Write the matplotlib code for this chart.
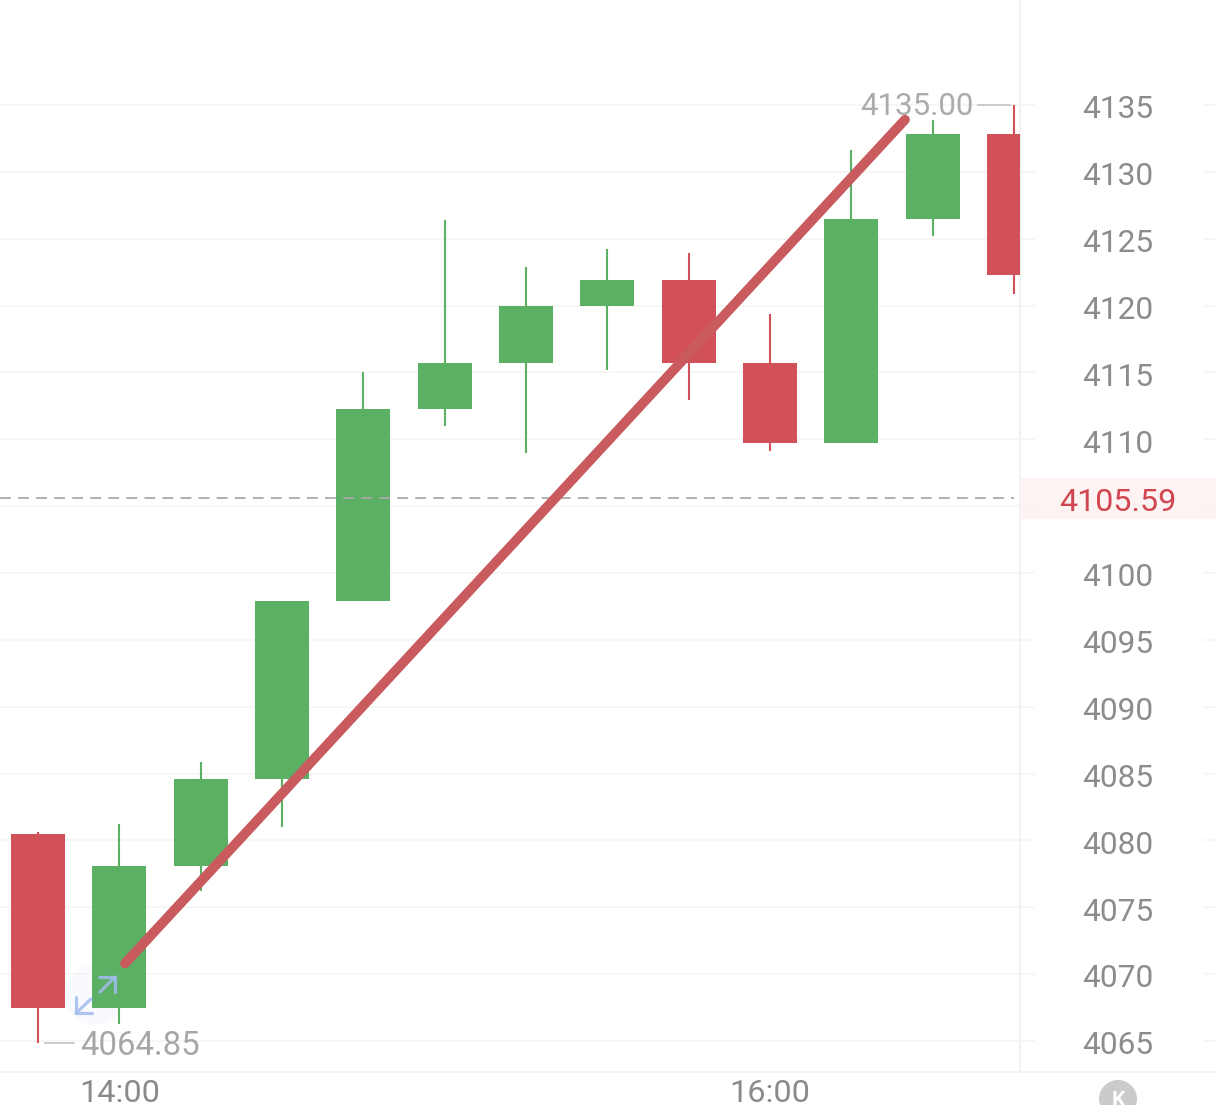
"""Candlestick screenshot with a hand-drawn trend line."""

import matplotlib

matplotlib.use("Agg")
import matplotlib.pyplot as plt
from matplotlib.patches import Circle, Rectangle
from matplotlib.transforms import ScaledTranslation

plt.rcParams["font.family"] = ["Roboto", "DejaVu Sans"]

OPENS = [4080.5, 4067.5, 4078.1, 4084.6, 4097.9, 4112.3, 4115.7, 4120.0,
         4121.9, 4115.7, 4109.7, 4126.5, 4132.8]
CLOSES = [4067.5, 4078.1, 4084.6, 4097.9, 4112.3, 4115.7, 4120.0, 4121.9,
          4115.7, 4109.7, 4126.5, 4132.8, 4122.3]
HIGHS = [4080.6, 4081.2, 4085.9, 4097.9, 4115.0, 4126.4, 4122.9, 4124.2,
         4123.9, 4119.4, 4131.6, 4133.9, 4135.0]
LOWS = [4064.85, 4066.3, 4076.2, 4081.0, 4097.9, 4111.0, 4109.0, 4115.2,
        4112.9, 4109.1, 4109.7, 4125.2, 4120.9]

PRICE_TICKS = [4065, 4070, 4075, 4080, 4085, 4090, 4095, 4100, 4105,
               4110, 4115, 4120, 4125, 4130, 4135]
PRICE_LABELS = ["4065", "4070", "4075", "4080", "4085", "4090", "4095", "4100", "",
                "4110", "4115", "4120", "4125", "4130", "4135"]
TIME_POS = [1, 9]
TIME_LABELS = ["14:00", "16:00"]

LAST_PRICE = 4105.59
MAX_PRICE = 4135.00
MIN_PRICE = 4064.85
TREND_X = [1.07, 10.66]
TREND_Y = [4070.8, 4133.9]

GREEN = "#5cb064"
RED = "#d25058"
GRID = "#f5f5f5"
W, H = 1216, 1105

fig = plt.figure(figsize=(W / 100, H / 100), dpi=100, facecolor="white")

# pixel-space layer behind the chart: price tag band, icon halo, bottom rule
bg = fig.add_axes([0, 0, 1, 1], zorder=0)
bg.set_xlim(0, W)
bg.set_ylim(H, 0)
bg.axis("off")
bg.add_patch(Rectangle((1020, 478), 196, 41, color="#fdf3f2", lw=0))
bg.add_patch(Circle((95, 995), 30, color="#f8fafe", lw=0))
bg.hlines(1072, 0, W, color="#f1f1f1", lw=1.2)

ax = fig.add_axes([0, (H - 1072) / H, 1020 / W, 1072 / H], zorder=1)
ax.patch.set_visible(False)
ax.set_xlim(-0.467, 12.074)
ax.set_ylim(4062.68, 4142.85)

ax.hlines(PRICE_TICKS, 0, 1.015, transform=ax.get_yaxis_transform(),
          color=GRID, lw=1.2, clip_on=False, zorder=0)
ax.hlines(PRICE_TICKS, 1.18, 1.1922, transform=ax.get_yaxis_transform(),
          color=GRID, lw=1.2, clip_on=False, zorder=0)

for i, (o, c, hi, lo) in enumerate(zip(OPENS, CLOSES, HIGHS, LOWS)):
    color = GREEN if c > o else RED
    ax.vlines(i, lo, hi, color=color, lw=1.5, zorder=2)
    ax.bar(i, abs(c - o), bottom=min(o, c), width=0.664, color=color, lw=0, zorder=3)

ax.plot([-0.467, 12.0], [LAST_PRICE, LAST_PRICE], color="#a9a9a9", lw=1.3,
        dashes=(6, 4), zorder=4)
ax.plot(TREND_X, TREND_Y, color="#c95a5e", lw=7, solid_capstyle="round",
        clip_on=False, zorder=6)

# high / low callouts
ax.text(10.107, MAX_PRICE - 0.15, f"{MAX_PRICE:.2f}", color="#ababab", fontsize=22.5,
        ha="left", va="center", zorder=5)
ax.plot([11.56, 11.95], [MAX_PRICE, MAX_PRICE], color="#c4c4c4", lw=1.2, zorder=5)
ax.text(0.52, MIN_PRICE - 0.25, f"{MIN_PRICE:.2f}", color="#a6a6a6", fontsize=23.7,
        ha="left", va="center", zorder=5)
ax.plot([0.09, 0.44], [MIN_PRICE, MIN_PRICE], color="#c4c4c4", lw=1.2, zorder=5)

ax.yaxis.tick_right()
ax.set_yticks(PRICE_TICKS, PRICE_LABELS)
ax.tick_params(axis="y", length=0, pad=70.5, labelsize=22.8, labelcolor="#8c8c8c")
nudge = ScaledTranslation(0, -1.3 / 72, fig.dpi_scale_trans)
for lab in ax.get_yticklabels():
    lab.set_ha("center")
    lab.set_transform(lab.get_transform() + nudge)
ax.set_xticks(TIME_POS, TIME_LABELS)
ax.tick_params(axis="x", length=0, pad=5, labelsize=23.4, labelcolor="#8a8a8a")
for side in ("top", "left", "bottom"):
    ax.spines[side].set_visible(False)
ax.spines["right"].set_color("#f2f2f2")
ax.spines["right"].set_linewidth(1.4)

ax.text(1 + 98 / 1020, LAST_PRICE - 0.3, f"{LAST_PRICE:.2f}", color="#d0454f",
        fontsize=23.2, ha="center", va="center", transform=ax.get_yaxis_transform())

# pixel-space layer on top: expand icon and K badge
fg = fig.add_axes([0, 0, 1, 1], zorder=2)
fg.set_xlim(0, W)
fg.set_ylim(H, 0)
fg.axis("off")
fg.patch.set_visible(False)
arrow = dict(color="#a3bbee", lw=2.3, alpha=0.85, solid_capstyle="round",
             solid_joinstyle="round")
fg.plot([99, 115, 115], [977, 977, 992], **arrow)
fg.plot([115, 100], [977, 992], **arrow)
fg.plot([76, 76, 92], [997, 1013, 1013], **arrow)
fg.plot([76, 91], [1013, 999], **arrow)
fg.add_patch(Circle((1118, 1099), 19, color="#cbcbcd", lw=0))
fg.text(1118, 1100, "K", color="white", fontsize=15, fontweight="bold",
        ha="center", va="center")

fig.savefig("out.png", dpi=100)
